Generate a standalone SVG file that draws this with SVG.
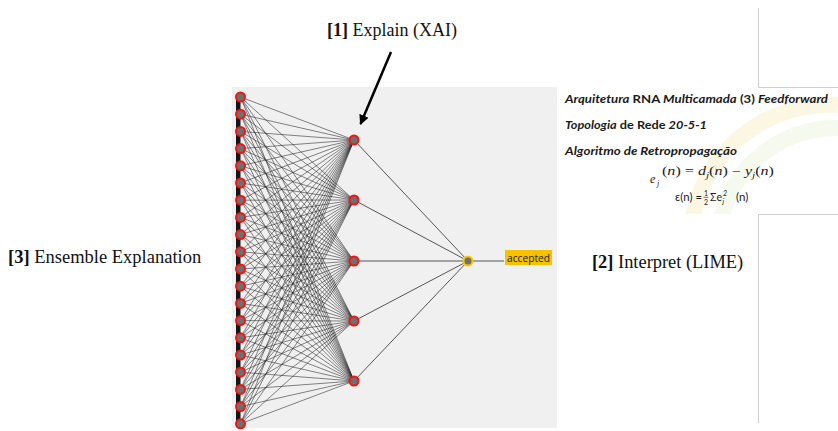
<svg xmlns="http://www.w3.org/2000/svg" width="838" height="431" viewBox="0 0 838 431">
<defs>
<style>
.serif{font-family:"Liberation Serif","Times New Roman",serif;fill:#111}
.e path{stroke:#262626;stroke-width:0.8;stroke-opacity:0.7;fill:none}
.o path{stroke:#555;stroke-width:1;fill:none}
.in circle,.hid circle{fill:#6f6f6f;stroke:#f01414;stroke-width:2}
.cal{font-family:Lato,"Open Sans",sans-serif;font-size:11px;font-weight:bold;fill:#1a1a1a}
.it{font-style:italic}
.up{font-style:normal}
.math{font-family:"Liberation Serif",serif;font-style:italic;fill:#1a1a1a}
</style>
<clipPath id="boxclip"><rect x="557" y="88" width="281" height="126"/></clipPath>
<marker id="ah" viewBox="0 0 10 10" refX="9" refY="5" markerWidth="4" markerHeight="4" orient="auto" markerUnits="strokeWidth">
<path d="M0 0L10 5L0 10z" fill="#000"/>
</marker>
</defs>
<rect width="838" height="431" fill="#fff"/>
<rect id="panel" x="232" y="87" width="325" height="341" fill="#f0f0f0"/>

<g id="slide">
<g clip-path="url(#boxclip)" opacity="0.2" fill="none" stroke-width="16">
<path d="M690 240 A140 140 0 0 1 838 105" stroke="#f3dc7a"/>
<path d="M718 240 A118 118 0 0 1 838 128" stroke="#cfe3b0"/>
</g>
<g stroke="#cfcfcf" stroke-width="1" fill="none">
<path d="M758.5 8V87.5H838"/>
<path d="M758.5 423V214.5H838"/>
</g>
<text class="cal" x="565" y="103" textLength="263" lengthAdjust="spacingAndGlyphs"><tspan class="it">Arquitetura</tspan> RNA <tspan class="it">Multicamada</tspan> (3) <tspan class="it">Feedforward</tspan></text>
<text class="cal" x="565" y="129" textLength="142" lengthAdjust="spacingAndGlyphs"><tspan class="it">Topologia</tspan> de Rede <tspan class="it">20-5-1</tspan></text>
<text class="cal it" x="565" y="155" textLength="172" lengthAdjust="spacingAndGlyphs">Algoritmo de Retropropagação</text>
<text class="math" x="650" y="183" font-size="12">e</text>
<text class="math" x="657" y="186" font-size="8">j</text>
<text class="math" x="662" y="175" font-size="11.5" textLength="112" lengthAdjust="spacingAndGlyphs"><tspan class="up">(</tspan>n<tspan class="up">) = </tspan>d<tspan font-size="8" dy="2.5">j</tspan><tspan class="up" dy="-2.5">(</tspan>n<tspan class="up">) − </tspan>y<tspan font-size="8" dy="2.5">j</tspan><tspan class="up" dy="-2.5">(</tspan>n<tspan class="up">)</tspan></text>
<g font-family="Lato,'Open Sans',sans-serif" fill="#1a1a1a">
<text x="675" y="201" font-size="11.5" textLength="27" lengthAdjust="spacingAndGlyphs">ε(n) =</text>
<text x="704" y="195.5" font-size="7">1</text>
<path d="M703.5 197.3H708.5" stroke="#1a1a1a" stroke-width="0.6"/>
<text x="704" y="204.5" font-size="7">2</text>
<text x="710" y="201" font-size="11.5" textLength="12" lengthAdjust="spacingAndGlyphs">Σe</text>
<text x="723" y="196" font-size="7" font-style="italic">2</text>
<text x="722.5" y="204" font-size="7" font-style="italic">j</text>
<text x="736" y="201" font-size="11.5">(n)</text>
</g>
</g>

<g id="connectors">
<g class="e">
<path d="M240.5 97L354 140"/><path d="M240.5 97L354 200"/><path d="M240.5 97L354 261"/><path d="M240.5 97L354 321"/><path d="M240.5 97L354 381"/>
<path d="M240.5 114.2L354 140"/><path d="M240.5 114.2L354 200"/><path d="M240.5 114.2L354 261"/><path d="M240.5 114.2L354 321"/><path d="M240.5 114.2L354 381"/>
<path d="M240.5 131.4L354 140"/><path d="M240.5 131.4L354 200"/><path d="M240.5 131.4L354 261"/><path d="M240.5 131.4L354 321"/><path d="M240.5 131.4L354 381"/>
<path d="M240.5 148.6L354 140"/><path d="M240.5 148.6L354 200"/><path d="M240.5 148.6L354 261"/><path d="M240.5 148.6L354 321"/><path d="M240.5 148.6L354 381"/>
<path d="M240.5 165.8L354 140"/><path d="M240.5 165.8L354 200"/><path d="M240.5 165.8L354 261"/><path d="M240.5 165.8L354 321"/><path d="M240.5 165.8L354 381"/>
<path d="M240.5 183L354 140"/><path d="M240.5 183L354 200"/><path d="M240.5 183L354 261"/><path d="M240.5 183L354 321"/><path d="M240.5 183L354 381"/>
<path d="M240.5 200.2L354 140"/><path d="M240.5 200.2L354 200"/><path d="M240.5 200.2L354 261"/><path d="M240.5 200.2L354 321"/><path d="M240.5 200.2L354 381"/>
<path d="M240.5 217.4L354 140"/><path d="M240.5 217.4L354 200"/><path d="M240.5 217.4L354 261"/><path d="M240.5 217.4L354 321"/><path d="M240.5 217.4L354 381"/>
<path d="M240.5 234.6L354 140"/><path d="M240.5 234.6L354 200"/><path d="M240.5 234.6L354 261"/><path d="M240.5 234.6L354 321"/><path d="M240.5 234.6L354 381"/>
<path d="M240.5 251.8L354 140"/><path d="M240.5 251.8L354 200"/><path d="M240.5 251.8L354 261"/><path d="M240.5 251.8L354 321"/><path d="M240.5 251.8L354 381"/>
<path d="M240.5 269L354 140"/><path d="M240.5 269L354 200"/><path d="M240.5 269L354 261"/><path d="M240.5 269L354 321"/><path d="M240.5 269L354 381"/>
<path d="M240.5 286.2L354 140"/><path d="M240.5 286.2L354 200"/><path d="M240.5 286.2L354 261"/><path d="M240.5 286.2L354 321"/><path d="M240.5 286.2L354 381"/>
<path d="M240.5 303.4L354 140"/><path d="M240.5 303.4L354 200"/><path d="M240.5 303.4L354 261"/><path d="M240.5 303.4L354 321"/><path d="M240.5 303.4L354 381"/>
<path d="M240.5 320.6L354 140"/><path d="M240.5 320.6L354 200"/><path d="M240.5 320.6L354 261"/><path d="M240.5 320.6L354 321"/><path d="M240.5 320.6L354 381"/>
<path d="M240.5 337.8L354 140"/><path d="M240.5 337.8L354 200"/><path d="M240.5 337.8L354 261"/><path d="M240.5 337.8L354 321"/><path d="M240.5 337.8L354 381"/>
<path d="M240.5 355L354 140"/><path d="M240.5 355L354 200"/><path d="M240.5 355L354 261"/><path d="M240.5 355L354 321"/><path d="M240.5 355L354 381"/>
<path d="M240.5 372.2L354 140"/><path d="M240.5 372.2L354 200"/><path d="M240.5 372.2L354 261"/><path d="M240.5 372.2L354 321"/><path d="M240.5 372.2L354 381"/>
<path d="M240.5 389.4L354 140"/><path d="M240.5 389.4L354 200"/><path d="M240.5 389.4L354 261"/><path d="M240.5 389.4L354 321"/><path d="M240.5 389.4L354 381"/>
<path d="M240.5 406.6L354 140"/><path d="M240.5 406.6L354 200"/><path d="M240.5 406.6L354 261"/><path d="M240.5 406.6L354 321"/><path d="M240.5 406.6L354 381"/>
<path d="M240.5 423.8L354 140"/><path d="M240.5 423.8L354 200"/><path d="M240.5 423.8L354 261"/><path d="M240.5 423.8L354 321"/><path d="M240.5 423.8L354 381"/>
</g>
<rect x="236" y="99" width="4.5" height="323" fill="#151515"/>
<g class="o">
<path d="M354 140L468 261"/><path d="M354 200L468 261"/><path d="M354 261L468 261"/><path d="M354 321L468 261"/><path d="M354 381L468 261"/>
<path d="M468 261H504"/>
</g>
<path id="xai-arrow" d="M391 52L360.5 124" stroke="#000" stroke-width="2.5" fill="none" marker-end="url(#ah)"/>
</g>

<g id="input-layer" class="in">
<circle cx="240.5" cy="97" r="4.5"/><circle cx="240.5" cy="114.2" r="4.5"/><circle cx="240.5" cy="131.4" r="4.5"/><circle cx="240.5" cy="148.6" r="4.5"/><circle cx="240.5" cy="165.8" r="4.5"/>
<circle cx="240.5" cy="183" r="4.5"/><circle cx="240.5" cy="200.2" r="4.5"/><circle cx="240.5" cy="217.4" r="4.5"/><circle cx="240.5" cy="234.6" r="4.5"/><circle cx="240.5" cy="251.8" r="4.5"/>
<circle cx="240.5" cy="269" r="4.5"/><circle cx="240.5" cy="286.2" r="4.5"/><circle cx="240.5" cy="303.4" r="4.5"/><circle cx="240.5" cy="320.6" r="4.5"/><circle cx="240.5" cy="337.8" r="4.5"/>
<circle cx="240.5" cy="355" r="4.5"/><circle cx="240.5" cy="372.2" r="4.5"/><circle cx="240.5" cy="389.4" r="4.5"/><circle cx="240.5" cy="406.6" r="4.5"/><circle cx="240.5" cy="423.8" r="4.5"/>
</g>
<g id="hidden-layer" class="hid">
<circle cx="354" cy="140" r="4.5"/><circle cx="354" cy="200" r="4.5"/><circle cx="354" cy="261" r="4.5"/><circle cx="354" cy="321" r="4.5"/><circle cx="354" cy="381" r="4.5"/>
</g>
<g id="output-node">
<circle cx="468" cy="261" r="4.5" fill="#6f6f6f" stroke="#f7c800" stroke-width="2"/>
</g>
<g id="accepted-label">
<rect x="505" y="250" width="47" height="15" fill="#f7c000"/>
<text x="507" y="261.5" font-family="'Open Sans',sans-serif" font-size="11" fill="#222" textLength="43" lengthAdjust="spacingAndGlyphs">accepted</text>
</g>

<g id="label-explain"><text class="serif" x="327" y="36" font-size="18"><tspan font-weight="bold">[1]</tspan> Explain (XAI)</text></g>
<g id="label-ensemble"><text class="serif" x="8" y="263" font-size="18.5"><tspan font-weight="bold">[3]</tspan> Ensemble Explanation</text></g>
<g id="label-interpret"><text class="serif" x="592" y="268" font-size="18.4"><tspan font-weight="bold">[2]</tspan> Interpret (LIME)</text></g>
</svg>
